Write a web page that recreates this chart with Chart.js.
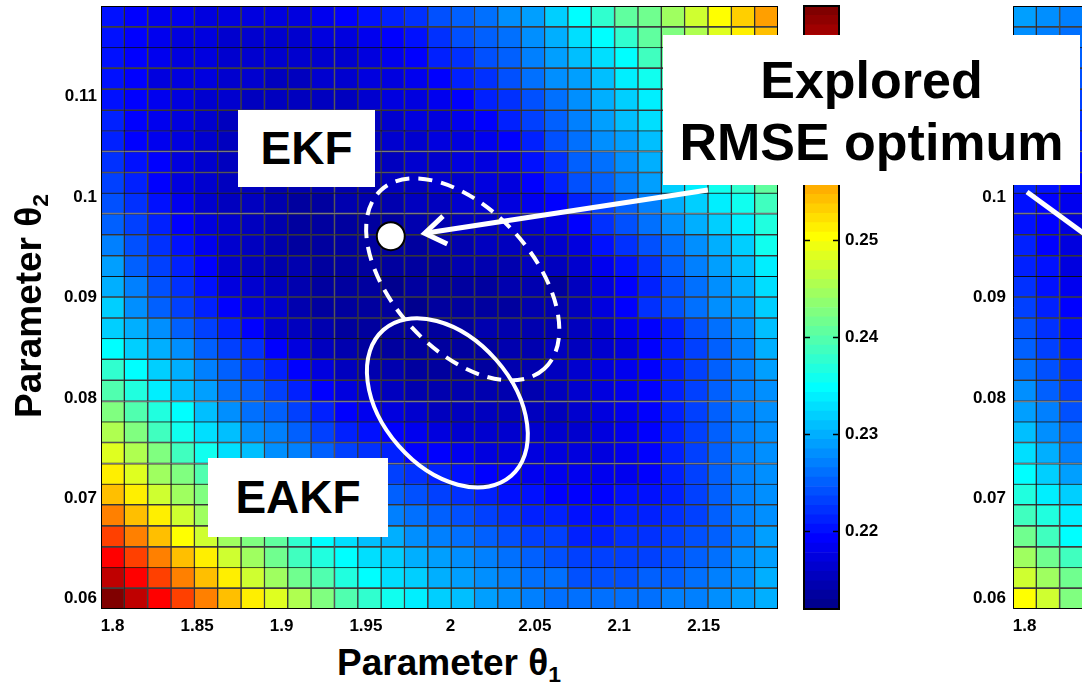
<!DOCTYPE html>
<html lang="en">
<head>
<meta charset="utf-8">
<title>RMSE map over θ1 and θ2</title>
<script src="https://cdn.jsdelivr.net/npm/chart.js@4.4.1/dist/chart.umd.min.js"></script>
<style>
  html, body { margin: 0; padding: 0; background: #fff; overflow: hidden; }
  #stage { position: relative; width: 1082px; height: 685px; overflow: hidden;
           font-family: "Liberation Sans", Arial, sans-serif; font-weight: bold; color: #000; }
  #stage canvas { position: absolute; top: 0; }
  #heat { left: 0; }
  #cbar { left: 800px; }
  #heat2 { left: 940px; }
  .tag { position: absolute; background: #fff; text-align: center; white-space: nowrap; }
  #tagEkf { left: 238px; top: 110px; width: 137px; height: 77px; font-size: 46px; line-height: 77px; }
  #tagEakf { left: 208px; top: 458px; width: 180px; height: 79px; font-size: 46px; line-height: 79px; }
  #tagOpt { left: 663px; top: 35px; width: 417px; height: 150px; font-size: 52px; line-height: 62px;
            padding-top: 14px; box-sizing: border-box; }
  .axis-title { position: absolute; font-size: 37px; line-height: 37px; white-space: nowrap; }
  .axis-title sub { font-size: 0.62em; vertical-align: -0.3em; line-height: 0; }
  #xTitle { left: 337px; top: 644px; }
  #yTitle { left: 10px; top: 418px; transform-origin: 0 0; transform: rotate(-90deg); }
</style>
</head>
<body>
<div id="stage">
  <canvas id="heat" width="780" height="640"></canvas>
  <canvas id="cbar" width="104" height="640"></canvas>
  <canvas id="heat2" width="143" height="640"></canvas>
  <div class="tag" id="tagEkf">EKF</div>
  <div class="tag" id="tagEakf">EAKF</div>
  <div class="tag" id="tagOpt">Explored<br>RMSE optimum</div>
  <div class="axis-title" id="xTitle">Parameter θ<sub>1</sub></div>
  <div class="axis-title" id="yTitle">Parameter θ<sub>2</sub></div>
</div>
<script>
// sweep grid
const theta1 = [1.8000, 1.8138, 1.8277, 1.8415, 1.8553, 1.8691, 1.8830, 1.8968, 1.9106, 1.9244,
  1.9383, 1.9521, 1.9659, 1.9797, 1.9936, 2.0074, 2.0212, 2.0350, 2.0489, 2.0627,
  2.0765, 2.0903, 2.1042, 2.1180, 2.1318, 2.1456, 2.1595, 2.1733, 2.1871];
const theta2 = [0.0600, 0.0621, 0.0641, 0.0662, 0.0683, 0.0704, 0.0724, 0.0745, 0.0766, 0.0786,
  0.0807, 0.0828, 0.0849, 0.0869, 0.0890, 0.0911, 0.0931, 0.0952, 0.0973, 0.0994,
  0.1014, 0.1035, 0.1056, 0.1076, 0.1097, 0.1118, 0.1139, 0.1159, 0.1180];

// RMSE per cell, rows listed from the top (theta2 = 0.118) down to theta2 = 0.06
const rmse = [
  [0.2203,0.2193,0.2183,0.2183,0.2174,0.2174,0.2174,0.2174,0.2174,0.2183,0.2193,0.2203,0.2212,0.2222,0.2242,0.2251,0.2261,0.2281,0.2290,0.2319,0.2349,0.2378,0.2407,0.2417,0.2446,0.2475,0.2504,0.2533,0.2562],
  [0.2203,0.2193,0.2183,0.2174,0.2174,0.2164,0.2164,0.2164,0.2164,0.2174,0.2174,0.2183,0.2193,0.2203,0.2222,0.2242,0.2251,0.2261,0.2281,0.2300,0.2329,0.2349,0.2378,0.2407,0.2426,0.2455,0.2485,0.2514,0.2543],
  [0.2203,0.2193,0.2183,0.2174,0.2174,0.2164,0.2164,0.2164,0.2164,0.2164,0.2164,0.2174,0.2183,0.2193,0.2212,0.2222,0.2242,0.2251,0.2271,0.2290,0.2310,0.2329,0.2349,0.2387,0.2407,0.2436,0.2465,0.2494,0.2523],
  [0.2203,0.2193,0.2174,0.2174,0.2174,0.2164,0.2164,0.2154,0.2154,0.2164,0.2164,0.2174,0.2174,0.2183,0.2193,0.2212,0.2222,0.2242,0.2261,0.2281,0.2290,0.2310,0.2339,0.2358,0.2387,0.2417,0.2446,0.2475,0.2504],
  [0.2203,0.2193,0.2183,0.2174,0.2164,0.2164,0.2154,0.2154,0.2154,0.2154,0.2154,0.2164,0.2174,0.2174,0.2183,0.2193,0.2212,0.2222,0.2242,0.2261,0.2281,0.2300,0.2319,0.2339,0.2368,0.2397,0.2426,0.2455,0.2485],
  [0.2212,0.2193,0.2183,0.2174,0.2164,0.2154,0.2154,0.2154,0.2154,0.2154,0.2154,0.2154,0.2164,0.2174,0.2174,0.2183,0.2193,0.2212,0.2232,0.2251,0.2271,0.2290,0.2310,0.2329,0.2349,0.2378,0.2407,0.2436,0.2465],
  [0.2212,0.2193,0.2183,0.2174,0.2164,0.2154,0.2154,0.2154,0.2144,0.2144,0.2154,0.2154,0.2164,0.2164,0.2174,0.2174,0.2183,0.2193,0.2212,0.2242,0.2261,0.2281,0.2290,0.2310,0.2339,0.2358,0.2387,0.2417,0.2446],
  [0.2222,0.2203,0.2193,0.2174,0.2164,0.2154,0.2154,0.2144,0.2144,0.2144,0.2144,0.2154,0.2154,0.2164,0.2164,0.2174,0.2174,0.2183,0.2203,0.2222,0.2251,0.2261,0.2281,0.2300,0.2319,0.2339,0.2368,0.2387,0.2426],
  [0.2232,0.2212,0.2193,0.2174,0.2164,0.2154,0.2154,0.2144,0.2144,0.2144,0.2144,0.2144,0.2154,0.2154,0.2164,0.2164,0.2174,0.2174,0.2193,0.2212,0.2242,0.2251,0.2271,0.2290,0.2319,0.2339,0.2358,0.2378,0.2407],
  [0.2242,0.2222,0.2203,0.2183,0.2164,0.2154,0.2154,0.2144,0.2135,0.2135,0.2144,0.2144,0.2144,0.2154,0.2154,0.2164,0.2164,0.2174,0.2183,0.2193,0.2212,0.2232,0.2251,0.2271,0.2300,0.2319,0.2339,0.2358,0.2387],
  [0.2251,0.2232,0.2212,0.2193,0.2174,0.2164,0.2154,0.2144,0.2135,0.2135,0.2135,0.2135,0.2135,0.2144,0.2144,0.2154,0.2154,0.2164,0.2164,0.2174,0.2193,0.2222,0.2242,0.2261,0.2281,0.2300,0.2319,0.2339,0.2368],
  [0.2271,0.2242,0.2222,0.2203,0.2183,0.2164,0.2154,0.2144,0.2135,0.2135,0.2135,0.2135,0.2135,0.2135,0.2144,0.2144,0.2154,0.2154,0.2154,0.2164,0.2174,0.2203,0.2222,0.2242,0.2261,0.2281,0.2300,0.2319,0.2358],
  [0.2290,0.2251,0.2232,0.2212,0.2193,0.2164,0.2154,0.2144,0.2144,0.2135,0.2135,0.2135,0.2135,0.2135,0.2135,0.2144,0.2144,0.2144,0.2154,0.2154,0.2164,0.2183,0.2203,0.2222,0.2251,0.2271,0.2290,0.2310,0.2339],
  [0.2300,0.2271,0.2242,0.2222,0.2203,0.2174,0.2164,0.2154,0.2144,0.2135,0.2135,0.2135,0.2125,0.2135,0.2135,0.2135,0.2135,0.2144,0.2144,0.2135,0.2154,0.2174,0.2193,0.2212,0.2242,0.2261,0.2281,0.2300,0.2329],
  [0.2319,0.2281,0.2251,0.2232,0.2212,0.2193,0.2174,0.2164,0.2144,0.2135,0.2135,0.2135,0.2135,0.2125,0.2135,0.2135,0.2135,0.2135,0.2144,0.2144,0.2154,0.2174,0.2193,0.2222,0.2242,0.2261,0.2281,0.2290,0.2319],
  [0.2319,0.2300,0.2281,0.2251,0.2232,0.2212,0.2193,0.2164,0.2154,0.2144,0.2135,0.2135,0.2135,0.2135,0.2135,0.2135,0.2144,0.2144,0.2144,0.2144,0.2154,0.2164,0.2183,0.2193,0.2212,0.2242,0.2261,0.2281,0.2310],
  [0.2349,0.2319,0.2300,0.2281,0.2251,0.2232,0.2222,0.2193,0.2174,0.2154,0.2144,0.2135,0.2135,0.2135,0.2135,0.2135,0.2135,0.2144,0.2144,0.2154,0.2154,0.2164,0.2174,0.2193,0.2212,0.2232,0.2251,0.2271,0.2300],
  [0.2378,0.2349,0.2319,0.2300,0.2271,0.2251,0.2232,0.2212,0.2193,0.2174,0.2154,0.2144,0.2144,0.2135,0.2135,0.2135,0.2135,0.2144,0.2144,0.2154,0.2164,0.2174,0.2183,0.2193,0.2212,0.2232,0.2251,0.2271,0.2290],
  [0.2397,0.2368,0.2339,0.2310,0.2290,0.2261,0.2251,0.2232,0.2212,0.2193,0.2174,0.2164,0.2154,0.2144,0.2144,0.2144,0.2144,0.2144,0.2144,0.2154,0.2164,0.2174,0.2183,0.2193,0.2212,0.2232,0.2251,0.2271,0.2281],
  [0.2426,0.2397,0.2368,0.2349,0.2310,0.2281,0.2261,0.2251,0.2232,0.2212,0.2193,0.2183,0.2174,0.2164,0.2154,0.2154,0.2154,0.2154,0.2154,0.2154,0.2164,0.2174,0.2183,0.2193,0.2212,0.2232,0.2251,0.2271,0.2281],
  [0.2455,0.2426,0.2387,0.2358,0.2329,0.2310,0.2281,0.2271,0.2251,0.2232,0.2212,0.2203,0.2193,0.2183,0.2174,0.2164,0.2164,0.2164,0.2164,0.2164,0.2164,0.2174,0.2183,0.2193,0.2212,0.2232,0.2251,0.2271,0.2281],
  [0.2485,0.2455,0.2426,0.2387,0.2358,0.2329,0.2310,0.2281,0.2271,0.2251,0.2232,0.2222,0.2212,0.2193,0.2193,0.2183,0.2174,0.2174,0.2174,0.2174,0.2174,0.2174,0.2183,0.2193,0.2212,0.2232,0.2251,0.2271,0.2281],
  [0.2514,0.2485,0.2446,0.2426,0.2397,0.2368,0.2339,0.2319,0.2300,0.2281,0.2261,0.2242,0.2232,0.2222,0.2212,0.2203,0.2193,0.2193,0.2183,0.2183,0.2183,0.2183,0.2183,0.2193,0.2212,0.2232,0.2251,0.2271,0.2281],
  [0.2543,0.2514,0.2475,0.2446,0.2426,0.2397,0.2368,0.2349,0.2329,0.2310,0.2290,0.2271,0.2251,0.2242,0.2232,0.2222,0.2212,0.2203,0.2203,0.2193,0.2193,0.2193,0.2203,0.2203,0.2212,0.2232,0.2251,0.2271,0.2281],
  [0.2582,0.2543,0.2514,0.2475,0.2446,0.2417,0.2397,0.2378,0.2358,0.2339,0.2310,0.2290,0.2271,0.2261,0.2251,0.2242,0.2232,0.2222,0.2212,0.2212,0.2203,0.2203,0.2212,0.2212,0.2222,0.2232,0.2251,0.2271,0.2281],
  [0.2621,0.2582,0.2543,0.2504,0.2475,0.2446,0.2426,0.2407,0.2378,0.2349,0.2329,0.2310,0.2300,0.2281,0.2271,0.2261,0.2251,0.2242,0.2232,0.2232,0.2212,0.2212,0.2222,0.2222,0.2232,0.2242,0.2251,0.2271,0.2290],
  [0.2659,0.2621,0.2582,0.2543,0.2514,0.2475,0.2446,0.2417,0.2387,0.2368,0.2349,0.2329,0.2319,0.2300,0.2290,0.2281,0.2271,0.2261,0.2251,0.2242,0.2232,0.2232,0.2232,0.2232,0.2242,0.2251,0.2261,0.2281,0.2290],
  [0.2698,0.2659,0.2621,0.2582,0.2543,0.2514,0.2475,0.2446,0.2417,0.2397,0.2368,0.2349,0.2329,0.2319,0.2300,0.2290,0.2281,0.2271,0.2261,0.2261,0.2242,0.2242,0.2242,0.2251,0.2251,0.2261,0.2271,0.2281,0.2300],
  [0.2737,0.2698,0.2659,0.2621,0.2582,0.2543,0.2514,0.2485,0.2455,0.2426,0.2397,0.2378,0.2358,0.2339,0.2319,0.2310,0.2290,0.2281,0.2271,0.2261,0.2261,0.2261,0.2261,0.2261,0.2271,0.2271,0.2281,0.2290,0.2300]
];

// second sweep (only its first three theta1 columns are in view), same row order
const theta1Right = [1.8000, 1.8138, 1.8277];
const rmseRight = [
  [0.2290,0.2281,0.2271], [0.2281,0.2271,0.2261], [0.2271,0.2261,0.2251], [0.2261,0.2251,0.2242],
  [0.2251,0.2242,0.2232], [0.2242,0.2232,0.2222], [0.2232,0.2222,0.2212], [0.2222,0.2212,0.2203],
  [0.2212,0.2203,0.2193], [0.2203,0.2193,0.2183], [0.2203,0.2193,0.2174], [0.2212,0.2193,0.2174],
  [0.2212,0.2203,0.2174], [0.2222,0.2203,0.2183], [0.2232,0.2212,0.2193], [0.2242,0.2222,0.2203],
  [0.2251,0.2232,0.2212], [0.2261,0.2242,0.2222], [0.2281,0.2251,0.2232], [0.2290,0.2271,0.2242],
  [0.2310,0.2281,0.2261], [0.2329,0.2300,0.2271], [0.2349,0.2319,0.2290], [0.2368,0.2339,0.2319],
  [0.2387,0.2368,0.2339], [0.2417,0.2387,0.2349], [0.2446,0.2417,0.2387], [0.2475,0.2446,0.2417],
  [0.2504,0.2475,0.2426]
];

const xTicks = [1.8, 1.85, 1.9, 1.95, 2, 2.05, 2.1, 2.15];
const yTicks = [0.06, 0.07, 0.08, 0.09, 0.1, 0.11];
const cbarTicks = [0.22, 0.23, 0.24, 0.25];
const cbarRange = [0.212, 0.2741];

// EKF optimum and the pointer from the label box
const ekfOptimum = [{ x: 1.9647, y: 0.0961 }];
const arrowLine = [{ x: 2.1525, y: 0.1007 }, { x: 1.9848, y: 0.0964 }];
const rightPointer = [{ x: 1.8014, y: 0.1005 }, { x: 1.8446, y: 0.0952 }];

// uncertainty regions (centre in parameter units, radii in px)
const ekfRegion = { x: 2.0073, y: 0.0918, rx: 121, ry: 70, angle: 47.6, dash: [14, 9] };
const eakfRegion = { x: 1.9982, y: 0.0795, rx: 97, ry: 65, angle: 48.8, dash: [] };

Chart.defaults.font.family = "'Liberation Sans', Arial, sans-serif";
Chart.defaults.font.size = 17;
Chart.defaults.font.weight = 'bold';
Chart.defaults.color = '#000';
Chart.defaults.animation = false;
Chart.defaults.responsive = false;
Chart.defaults.devicePixelRatio = 1;
Chart.defaults.layout.autoPadding = false;
Chart.defaults.plugins.legend.display = false;
Chart.defaults.plugins.tooltip.enabled = false;

// MATLAB jet, 64 levels
function jetColor(i) {
  const r = i < 24 ? 0 : i < 40 ? (i - 23) / 16 : i < 56 ? 1 : 1 - (i - 55) / 16;
  const g = i < 8 ? 0 : i < 24 ? (i - 7) / 16 : i < 40 ? 1 : i < 55 ? 1 - (i - 39) / 16 : 0;
  const b = i < 8 ? (i + 9) / 16 : i < 24 ? 1 : i < 39 ? 1 - (i - 23) / 16 : 0;
  return `rgb(${Math.round(r * 255)}, ${Math.round(g * 255)}, ${Math.round(b * 255)})`;
}
const levels = 64;
const jet = [];
for (let i = 0; i < levels; i++) jet.push(jetColor(i));

function colorFor(v) {
  const t = (v - cbarRange[0]) / (cbarRange[1] - cbarRange[0]);
  return jet[Math.max(0, Math.min(levels - 1, Math.floor(t * levels)))];
}

const dx = (theta1[theta1.length - 1] - theta1[0]) / (theta1.length - 1);
const dy = (theta2[theta2.length - 1] - theta2[0]) / (theta2.length - 1);

// one floating-bar dataset per theta2 row
function cellDatasets(rows, xs) {
  return rows.map((row, r) => {
    const t2 = theta2[theta2.length - 1 - r];
    return {
      type: 'bar',
      order: 3,
      data: row.map((v, j) => ({ x: xs[j], y: [t2 - dy / 2, t2 + dy / 2] })),
      backgroundColor: row.map(colorFor),
      borderColor: 'rgba(0, 0, 0, 0.75)',
      borderWidth: 1,
      borderSkipped: false,
      grouped: false,
      barPercentage: 1,
      categoryPercentage: 1
    };
  });
}

// fixed-size axis: no automatic label padding, so the plot box lands where the layout says
function tickAxis(values, fit) {
  return {
    type: 'linear',
    offset: false,
    grid: { display: false, drawTicks: false },
    border: { display: false },
    ticks: { autoSkip: false, maxRotation: 0, callback: (v) => String(v) },
    afterBuildTicks: (axis) => { axis.ticks = values.map((value) => ({ value })); },
    afterFit: (axis) => {
      fit(axis);
      axis.paddingTop = 0;
      axis.paddingBottom = 0;
      axis.paddingLeft = 0;
      axis.paddingRight = 0;
    }
  };
}

const yMin = theta2[0] - dy / 2;
const yMax = theta2[theta2.length - 1] + dy / 2;

const mainOverlay = {
  id: 'mainOverlay',
  afterDatasetsDraw(chart) {
    const { ctx, chartArea: a, scales: { x, y } } = chart;
    ctx.save();
    ctx.strokeStyle = '#000';
    ctx.lineWidth = 1;
    ctx.strokeRect(a.left + 0.5, a.top + 0.5, a.right - a.left - 1, a.bottom - a.top - 1);

    ctx.strokeStyle = '#fff';
    ctx.lineWidth = 4;
    [ekfRegion, eakfRegion].forEach((r) => {
      ctx.setLineDash(r.dash);
      ctx.beginPath();
      ctx.ellipse(x.getPixelForValue(r.x), y.getPixelForValue(r.y), r.rx, r.ry, r.angle * Math.PI / 180, 0, 2 * Math.PI);
      ctx.stroke();
    });

    // arrow head at the optimum end of the pointer
    const tip = arrowLine[1], tail = arrowLine[0];
    const tx = x.getPixelForValue(tip.x), ty = y.getPixelForValue(tip.y);
    const ang = Math.atan2(y.getPixelForValue(tail.y) - ty, x.getPixelForValue(tail.x) - tx);
    ctx.setLineDash([]);
    ctx.lineWidth = 5;
    ctx.lineJoin = 'miter';
    ctx.beginPath();
    ctx.moveTo(tx + 25 * Math.cos(ang + 0.6), ty + 25 * Math.sin(ang + 0.6));
    ctx.lineTo(tx, ty);
    ctx.lineTo(tx + 25 * Math.cos(ang - 0.6), ty + 25 * Math.sin(ang - 0.6));
    ctx.stroke();
    ctx.restore();
  }
};

new Chart(document.getElementById('heat'), {
  type: 'bar',
  data: {
    datasets: [
      ...cellDatasets(rmse, theta1),
      {
        type: 'line',
        order: 1,
        data: arrowLine,
        borderColor: '#fff',
        borderWidth: 5,
        pointRadius: 0,
        fill: false
      },
      {
        type: 'scatter',
        order: 0,
        data: ekfOptimum,
        pointRadius: 14,
        pointBackgroundColor: '#fff',
        pointBorderColor: '#000',
        pointBorderWidth: 2
      }
    ]
  },
  options: {
    layout: { padding: { top: 6, right: 2, left: 0, bottom: 0 } },
    scales: {
      x: {
        ...tickAxis(xTicks, (axis) => { axis.height = 31; }),
        min: theta1[0] - dx / 2,
        max: theta1[theta1.length - 1] + dx / 2,
        ticks: { autoSkip: false, maxRotation: 0, padding: 7, callback: (v) => String(v) }
      },
      y: {
        ...tickAxis(yTicks, (axis) => { axis.width = 101; }),
        min: yMin,
        max: yMax,
        ticks: { autoSkip: false, padding: 4, callback: (v) => String(v) }
      }
    }
  },
  plugins: [mainOverlay]
});

// colour bar
const cbarFrame = {
  id: 'cbarFrame',
  afterDraw(chart) {
    const { ctx, chartArea: a, scales: { y } } = chart;
    ctx.save();
    ctx.strokeStyle = '#000';
    ctx.lineWidth = 1.5;
    cbarTicks.forEach((v) => {
      const py = Math.round(y.getPixelForValue(v)) + 0.5;
      ctx.beginPath();
      ctx.moveTo(a.left, py); ctx.lineTo(a.left + 6, py);
      ctx.moveTo(a.right - 6, py); ctx.lineTo(a.right, py);
      ctx.stroke();
    });
    ctx.lineWidth = 2;
    ctx.strokeRect(a.left, a.top, a.right - a.left, a.bottom - a.top);
    ctx.restore();
  }
};

const step = (cbarRange[1] - cbarRange[0]) / levels;
new Chart(document.getElementById('cbar'), {
  type: 'bar',
  data: {
    labels: [''],
    datasets: jet.map((c, i) => ({
      data: [[cbarRange[0] + i * step, cbarRange[0] + (i + 1) * step]],
      backgroundColor: c,
      borderWidth: 0,
      grouped: false,
      barPercentage: 1,
      categoryPercentage: 1
    }))
  },
  options: {
    layout: { padding: { top: 6, left: 4, right: 0, bottom: 31 } },
    scales: {
      x: { display: false },
      y: {
        ...tickAxis(cbarTicks, (axis) => { axis.width = 65; }),
        position: 'right',
        min: cbarRange[0],
        max: cbarRange[1],
        ticks: { autoSkip: false, padding: 6, callback: (v) => String(v) }
      }
    }
  },
  plugins: [cbarFrame]
});

// neighbouring panel, cut by the page edge
const rightFrame = {
  id: 'rightFrame',
  afterDatasetsDraw(chart) {
    const { ctx, chartArea: a } = chart;
    ctx.save();
    ctx.strokeStyle = '#000';
    ctx.lineWidth = 1;
    ctx.beginPath();
    ctx.moveTo(a.right, a.top + 0.5); ctx.lineTo(a.left + 0.5, a.top + 0.5);
    ctx.lineTo(a.left + 0.5, a.bottom - 0.5); ctx.lineTo(a.right, a.bottom - 0.5);
    ctx.stroke();
    ctx.restore();
  }
};

new Chart(document.getElementById('heat2'), {
  type: 'bar',
  data: {
    datasets: [
      ...cellDatasets(rmseRight, theta1Right),
      {
        type: 'line',
        order: 1,
        data: rightPointer,
        borderColor: '#fff',
        borderWidth: 5,
        pointRadius: 0,
        fill: false
      }
    ]
  },
  options: {
    layout: { padding: { top: 6, right: 0, left: 0, bottom: 0 } },
    scales: {
      x: {
        ...tickAxis([1.8], (axis) => { axis.height = 31; }),
        min: theta1Right[0] - dx / 2,
        max: theta1Right[theta1Right.length - 1] + dx / 2,
        ticks: { autoSkip: false, maxRotation: 0, padding: 7, callback: (v) => String(v) }
      },
      y: {
        ...tickAxis(yTicks, (axis) => { axis.width = 73; }),
        min: yMin,
        max: yMax,
        ticks: { autoSkip: false, padding: 7, callback: (v) => String(v) }
      }
    }
  },
  plugins: [rightFrame]
});
</script>
</body>
</html>
